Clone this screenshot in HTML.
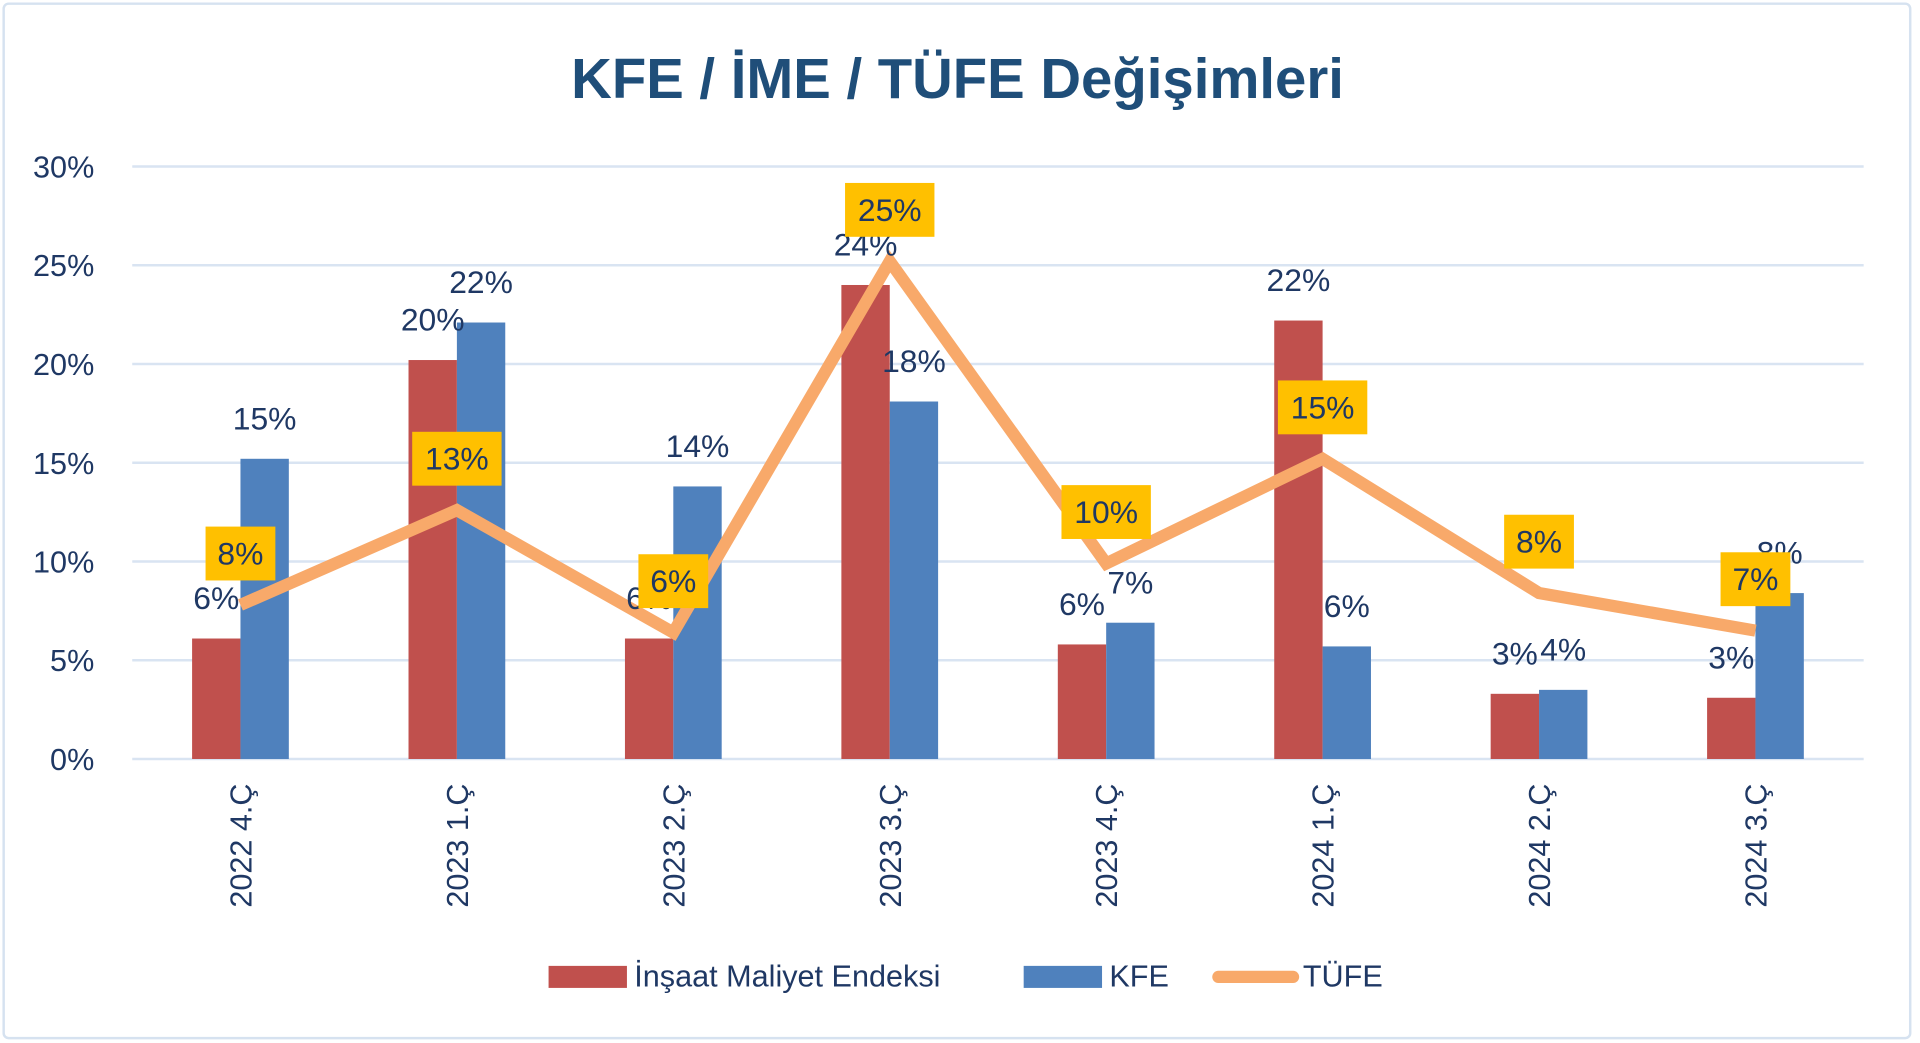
<!DOCTYPE html>
<html><head><meta charset="utf-8"><style>
html,body{margin:0;padding:0;background:#fff;}
svg{display:block;}
text{font-family:"Liberation Sans",sans-serif;}
</style></head><body>
<svg id="chart" width="1920" height="1043" viewBox="0 0 1568 852" preserveAspectRatio="none" xmlns="http://www.w3.org/2000/svg">
<rect x="3" y="3" width="1557" height="845" rx="4" fill="#fff" stroke="#d6e2f0" stroke-width="2"/>
<text x="782" y="80" text-anchor="middle" font-size="46" font-weight="bold" fill="#1f4e79">KFE / İME / TÜFE Değişimleri</text>
<g id="grid"></g><g id="bars"></g><g id="line"></g><g id="labels"></g><g id="xlabels"></g>
<g>
<rect x="448" y="789" width="64" height="18" fill="#c0504d"/>
<text x="518" y="806" font-size="25" fill="#1f3864">İnşaat Maliyet Endeksi</text>
<rect x="836" y="789" width="64" height="18" fill="#4f81bd"/>
<text x="906" y="806" font-size="25" fill="#1f3864">KFE</text>
<line x1="995" y1="798" x2="1056" y2="798" stroke="#f8a96a" stroke-width="10" stroke-linecap="round"/>
<text x="1064" y="806" font-size="25" fill="#1f3864">TÜFE</text>
</g>
</svg>
<script>
const categories=["2022 4.Ç","2023 1.Ç","2023 2.Ç","2023 3.Ç","2023 4.Ç","2024 1.Ç","2024 2.Ç","2024 3.Ç"];
const imeValues=[6.1,20.2,6.1,24.0,5.8,22.2,3.3,3.1];
const kfeValues=[15.2,22.1,13.8,18.1,6.9,5.7,3.5,8.4];
const tufeValues=[7.8,12.6,6.4,25.2,9.9,15.2,8.4,6.5];
const yTicks=[0,5,10,15,20,25,30];
const NS="http://www.w3.org/2000/svg";
const X0=108,X1=1522,Y0=620,Y30=136;
const band=(X1-X0)/categories.length;
const xC=i=>X0+band*(i+0.5);
const y=v=>Y0-(v/30)*(Y0-Y30);
function mk(tag,attrs,parent,txt){const e=document.createElementNS(NS,tag);for(const k in attrs)e.setAttribute(k,attrs[k]);if(txt!==undefined)e.textContent=txt;document.getElementById(parent).appendChild(e);return e;}
yTicks.forEach(t=>{
 const l=mk('line',{x1:X0,x2:X1,y1:y(t),y2:y(t),stroke:'#d9e4f2','stroke-width':2},'grid');
 
 
 const tx=mk('text',{x:77,y:y(t)+9,'text-anchor':'end','font-size':25,fill:'#1f3864'},'grid',t+'%');
 
 
});
const bw=39.5;
categories.forEach((c,i)=>{
 const cx=xC(i);
 const r=mk('rect',{x:cx-bw,y:y(imeValues[i]),width:bw,height:Y0-y(imeValues[i]),fill:'#c0504d'},'bars');
 
 
 const b=mk('rect',{x:cx,y:y(kfeValues[i]),width:bw,height:Y0-y(kfeValues[i]),fill:'#4f81bd'},'bars');
 
 
 const lr=mk('text',{x:cx-bw/2,y:y(imeValues[i])-24,'text-anchor':'middle','font-size':26,fill:'#1f3864'},'labels',Math.round(imeValues[i])+'%');
 
 
 const lb=mk('text',{x:cx+bw/2,y:y(kfeValues[i])-24,'text-anchor':'middle','font-size':26,fill:'#1f3864'},'labels',Math.round(kfeValues[i])+'%');
 
 
 const xl=mk('text',{x:0,y:0,'text-anchor':'end','font-size':25,fill:'#1f3864',transform:`translate(${cx+9},640) rotate(-90)`},'xlabels',c);
 
 
});
const pts=tufeValues.map((v,i)=>xC(i)+','+y(v)).join(' ');
const pl=mk('polyline',{points:pts,fill:'none',stroke:'#f8a96a','stroke-width':10,'stroke-linejoin':'miter'},'line');


tufeValues.forEach((v,i)=>{
 const t=Math.round(v)+'%';
 const w=t.length>2?73:57;
 const cy=y(v)-42;
 const bx=mk('rect',{x:xC(i)-w/2,y:cy-22,width:w,height:44,fill:'#ffc000'},'labels');
 
 
 const tx=mk('text',{x:xC(i),y:cy+9,'text-anchor':'middle','font-size':26,fill:'#1f3864'},'labels',t);
 
 
});
</script>
</body></html>
